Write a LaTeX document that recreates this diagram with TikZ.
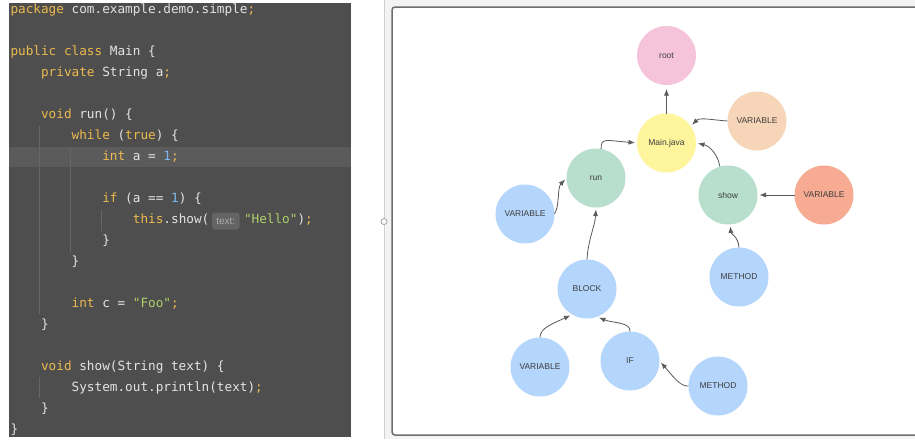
\documentclass[tikz,border=0pt]{standalone}
\usepackage{fontspec}
\setmainfont{Liberation Sans}
\setmonofont{DejaVu Sans Mono}
\usetikzlibrary{arrows.meta}

\definecolor{panelbg}{HTML}{4E4E4E}
\definecolor{hlbg}{HTML}{5B5B5B}
\definecolor{guidec}{HTML}{666666}
\definecolor{codefg}{HTML}{E4E4E4}
\definecolor{kwc}{HTML}{EDBA4E}
\definecolor{numc}{HTML}{7DB8EC}
\definecolor{strc}{HTML}{ADD06A}
\definecolor{inlaybg}{HTML}{646464}
\definecolor{inlayfg}{HTML}{ADADAD}
\definecolor{outerbg}{HTML}{F3F3F3}
\definecolor{framec}{HTML}{6E6E6E}
\definecolor{sepline}{HTML}{CFCFCF}
\definecolor{edgec}{HTML}{5A5A5A}
\definecolor{nodetext}{HTML}{3E3E3E}
\definecolor{cpink}{HTML}{F5C3DA}
\definecolor{cyellow}{HTML}{FEF59C}
\definecolor{cpeach}{HTML}{F7D5B8}
\definecolor{cmint}{HTML}{B8DFCD}
\definecolor{csalmon}{HTML}{F6AB92}
\definecolor{cblue}{HTML}{B4D5FC}

\newcommand{\ckw}[1]{\textcolor{kwc}{#1}}
\newcommand{\cnum}[1]{\textcolor{numc}{#1}}
\newcommand{\cstr}[1]{\textcolor{strc}{#1}}

\tikzset{
  codeline/.style={anchor=base west, inner sep=0pt, outer sep=0pt, text=codefg,
    font=\fontsize{12.7}{15}\selectfont\ttfamily},
  guide/.style={draw=guidec, line width=0.8pt},
  gnode/.style={circle, minimum size=59pt, inner sep=0pt, outer sep=0pt,
    text=nodetext, font=\fontsize{8.5}{10}\selectfont},
  conn/.style={draw=edgec, line width=0.8pt, -{Latex[length=6.5pt,width=5pt]}, shorten >=2pt}
}

\begin{document}
\begin{tikzpicture}[x=1pt,y=-1pt]
\useasboundingbox (0,0) rectangle (915,439);

% ---------- code panel ----------
\fill[panelbg] (8.5,3) rectangle (351,437);
\fill[hlbg] (8.5,146.5) rectangle (351,166.5);
\draw[guide] (39.5,125.5) -- (39.5,313.5);
\draw[guide] (70.5,146.5) -- (70.5,251.5);
\draw[guide] (101,209.5) -- (101,230.5);
\draw[guide] (39.5,377) -- (39.5,398);

\node[codeline] (l0)  at (10.5,13.5)  {\ckw{package} com.example.demo.simple\ckw{;}};
\node[codeline] (l2)  at (10.5,55.5)  {\ckw{public class} Main \{};
\node[codeline] (l3)  at (41.1,76.5)  {\ckw{private} String a\ckw{;}};
\node[codeline] (l5)  at (41.1,118.5) {\ckw{void} run() \{};
\node[codeline] (l6)  at (71.7,139.5) {\ckw{while} (\ckw{true}) \{};
\node[codeline] (l7)  at (102.3,160.5) {\ckw{int} a = \cnum{1}\ckw{;}};
\node[codeline] (l9)  at (102.3,202.5) {\ckw{if} (a == \cnum{1}) \{};
\node[codeline] (l10) at (132.9,223.5) {\ckw{this}.show(};
\fill[inlaybg, rounded corners=3pt] (212,212.5) rectangle (239.5,229.5);
\node[inner sep=0pt, text=inlayfg, font=\fontsize{10}{12}\selectfont] (inlay) at (225.8,221) {text:};
\node[codeline] (l10b) at (244,223.5) {\cstr{"Hello"})\ckw{;}};
\node[codeline] (l11) at (102.3,244.5) {\}};
\node[codeline] (l12) at (71.7,265.5) {\}};
\node[codeline] (l14) at (71.7,307.5) {\ckw{int} c = \cstr{"Foo"}\ckw{;}};
\node[codeline] (l15) at (41.1,328.5) {\}};
\node[codeline] (l17) at (41.1,370.5) {\ckw{void} show(String text) \{};
\node[codeline] (l18) at (71.7,391.5) {System.out.println(text)\ckw{;}};
\node[codeline] (l19) at (41.1,412.5) {\}};
\node[codeline] (l20) at (10.5,433.5) {\}};

% ---------- diagram canvas ----------
\fill[outerbg] (384,0) rectangle (915,439);
\draw[sepline, line width=0.8pt] (384,0) -- (384,439);
\filldraw[fill=white, draw=framec, line width=1.5pt, rounded corners=3pt] (392,7) rectangle (925,435);
\filldraw[fill=white, draw=gray!80, line width=0.7pt] (384,221.5) circle (3);

% nodes
\node[gnode, fill=cpink]   (root)  at (666.5,55.5) {root};
\node[gnode, fill=cyellow] (main)  at (666.5,143)  {Main.java};
\node[gnode, fill=cpeach]  (varA)  at (757,121)    {VARIABLE};
\node[gnode, fill=cmint]   (run)   at (596,178)    {run};
\node[gnode, fill=cmint]   (show)  at (728,195)    {show};
\node[gnode, fill=csalmon] (varB)  at (824,195)    {VARIABLE};
\node[gnode, fill=cblue]   (varC)  at (525,214)    {VARIABLE};
\node[gnode, fill=cblue]   (methA) at (739,277)    {METHOD};
\node[gnode, fill=cblue]   (block) at (587,289)    {BLOCK};
\node[gnode, fill=cblue]   (varD)  at (540,367)    {VARIABLE};
\node[gnode, fill=cblue]   (ifn)   at (630,361)    {IF};
\node[gnode, fill=cblue]   (methB) at (718,386)    {METHOD};

% connectors
\draw[conn, shorten >=4pt] (main.north) -- (root.south);
\draw[conn] (varA.west) .. controls (712,120) and (700,117) .. (main.35);
\draw[conn] (run.80) .. controls (601,141) and (603,140.5) .. (610,140.5) -- (main.west);
\draw[conn] (show.106) .. controls (718,155) and (710,146) .. (main.east);
\draw[conn] (varB.west) -- (show.east);
\draw[conn] (methA.north) .. controls (738,236) and (731,234) .. (show.274);
\draw[conn] (varC.east) .. controls (560,205) and (557,188) .. (run.west);
\draw[conn] (block.north) .. controls (588,240) and (595,226) .. (run.south);
\draw[conn] (varD.north) .. controls (540,328) and (552,324) .. (block.240);
\draw[conn] (ifn.north) .. controls (631,322) and (612,323) .. (block.290);
\draw[conn] (methB.west) .. controls (680,387) and (672,375) .. (ifn.east);
\end{tikzpicture}
\end{document}
